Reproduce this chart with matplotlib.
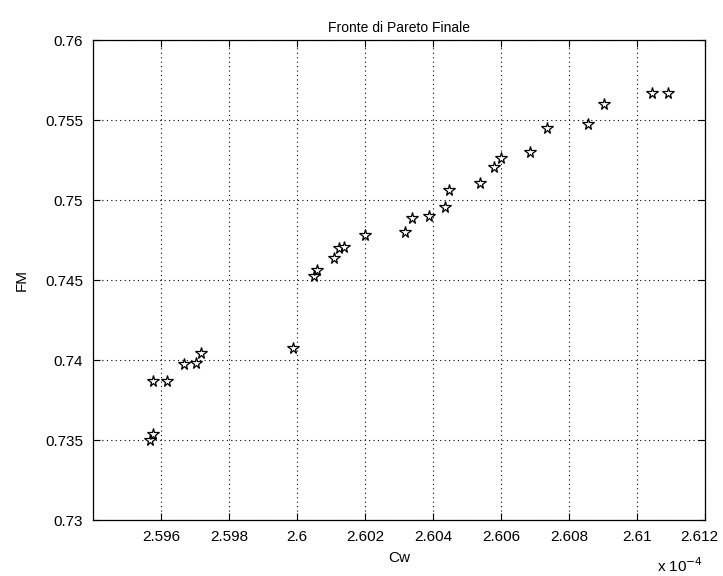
import matplotlib
matplotlib.use("Agg")
import matplotlib.pyplot as plt
from matplotlib.ticker import FuncFormatter
from matplotlib.transforms import ScaledTranslation

plt.rcParams["font.family"] = ["Liberation Sans", "DejaVu Sans"]

# Cw in units of 1e-4, FM
cw = [2.59569, 2.59576, 2.59576, 2.59619, 2.59669, 2.59704, 2.59718,
      2.59988, 2.60049, 2.60059, 2.60108, 2.60124, 2.60137, 2.60199,
      2.60317, 2.60338, 2.60389, 2.60436, 2.60446, 2.60539, 2.60578,
      2.60601, 2.60686, 2.60736, 2.60857, 2.60904, 2.61045, 2.61090]
fm = [0.73500, 0.73537, 0.73871, 0.73871, 0.73975, 0.73983, 0.74046,
      0.74073, 0.74527, 0.74562, 0.74636, 0.74698, 0.74704, 0.74781,
      0.74798, 0.74886, 0.74902, 0.74958, 0.75062, 0.75104, 0.75204,
      0.75260, 0.75298, 0.75448, 0.75475, 0.75600, 0.75667, 0.75667]

xticks = [2.596, 2.598, 2.6, 2.602, 2.604, 2.606, 2.608, 2.61, 2.612]
yticks = [0.73, 0.735, 0.74, 0.745, 0.75, 0.755, 0.76]

fig = plt.figure(figsize=(7.23, 5.76), dpi=100)
ax = fig.add_axes([93 / 723, 1 - 520 / 576, 612 / 723, 480 / 576])

ax.plot(cw, fm, linestyle="none", marker="*", markersize=8.5,
        markerfacecolor="white", markeredgecolor="black", markeredgewidth=0.9)

ax.set_xticks(xticks)
ax.set_yticks(yticks)
ax.set_xlim(2.594, 2.612)
ax.set_ylim(0.73, 0.76)
fmt = FuncFormatter(lambda v, _: "%g" % round(v, 4))
ax.xaxis.set_major_formatter(fmt)
ax.yaxis.set_major_formatter(fmt)

ax.grid(True, linestyle=(0, (1, 3)), color="black", linewidth=0.8)
ax.tick_params(direction="in", top=True, right=True, length=5,
               labelsize=11, width=0.8, pad=7)
for s in ax.spines.values():
    s.set_linewidth(0.9)

# nudge the last x label inside the figure like the original
last = ax.get_xticklabels()[-1]
last.set_transform(last.get_transform()
                   + ScaledTranslation(-6 / 100, 0, fig.dpi_scale_trans))

ax.set_title("Fronte di Pareto Finale", fontsize=10)
ax.set_xlabel("Cw", fontsize=11, labelpad=5)
ax.set_ylabel("FM", fontsize=11, labelpad=12)
fig.text(657 / 723, 1 - 572 / 576, r"x 10$^{-4}$", fontsize=11,
         ha="left", va="baseline")

fig.savefig("out.png", dpi=100)
